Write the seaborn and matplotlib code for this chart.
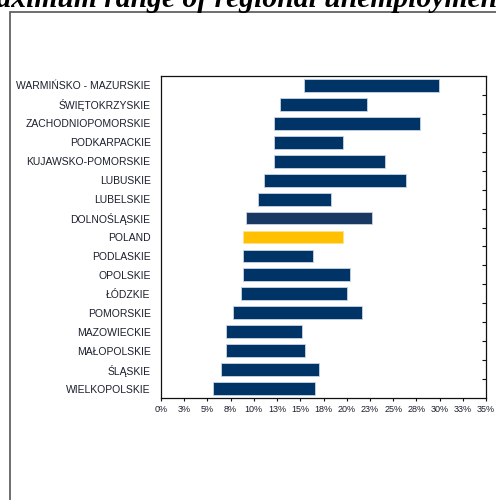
import matplotlib
matplotlib.use("Agg")
import matplotlib.pyplot as plt
import matplotlib.patches as mpatches
import seaborn as sns
import pandas as pd

# ---- data (top to bottom) ----
regions = [
    "WARMIŃSKO - MAZURSKIE", "ŚWIĘTOKRZYSKIE", "ZACHODNIOPOMORSKIE", "PODKARPACKIE",
    "KUJAWSKO-POMORSKIE", "LUBUSKIE", "LUBELSKIE", "DOLNOŚLĄSKIE", "POLAND",
    "PODLASKIE", "OPOLSKIE", "ŁÓDZKIE", "POMORSKIE", "MAZOWIECKIE",
    "MAŁOPOLSKIE", "ŚLĄSKIE", "WIELKOPOLSKIE",
]
min_rate = [15.4, 12.8, 12.2, 12.2, 12.2, 11.1, 10.4, 9.2, 8.8,
            8.8, 8.8, 8.6, 7.8, 7.0, 7.0, 6.5, 5.6]
max_rate = [29.9, 22.2, 27.9, 19.6, 24.1, 26.4, 18.3, 22.7, 19.6,
            16.4, 20.4, 20.0, 21.7, 15.2, 15.5, 17.0, 16.6]
x_ticks = [0, 2.5, 5, 7.5, 10, 12.5, 15, 17.5, 20, 22.5, 25, 27.5, 30, 32.5, 35]
x_tick_labels = ["0%", "3%", "5%", "8%", "10%", "13%", "15%", "18%", "20%",
                 "23%", "25%", "28%", "30%", "33%", "35%"]
title = "Maximum range of regional unemployment"

df = pd.DataFrame({"region": regions, "start": min_rate, "end": max_rate})
df["span"] = df["end"] - df["start"]

sns.set_theme(style="white")
plt.rcParams["font.family"] = ["Liberation Sans", "DejaVu Sans"]

fig = plt.figure(figsize=(4.96, 5.00), dpi=100, facecolor="white")
ax = fig.add_axes([161 / 496, 1 - 398 / 500, (486 - 161) / 496, (398 - 76) / 500])

navy = "#003366"
sns.barplot(data=df, x="span", y="region", order=regions, orient="h",
            left=df["start"].to_numpy(), color=navy, width=0.68,
            edgecolor="#c9d5e4", linewidth=0.6, saturation=1, ax=ax, errorbar=None)

for patch, reg in zip(ax.patches, regions):
    if reg == "POLAND":
        patch.set_facecolor("#FFC000")
        patch.set_edgecolor("#ffe08a")
    elif reg == "DOLNOŚLĄSKIE":
        patch.set_facecolor("#1a3962")

ax.set_xlim(0, 35)
ax.set_ylim(len(regions) - 0.5, -0.5)
ax.set_xticks(x_ticks)
ax.set_xticklabels(x_tick_labels)
ax.set_xlabel("")
ax.set_ylabel("")

for s in ax.spines.values():
    s.set_visible(True)
    s.set_color("#111111")
    s.set_linewidth(0.9)

ax.tick_params(axis="x", which="major", bottom=True, direction="out", length=2.5,
               width=0.8, color="#111111", labelsize=6.5, labelcolor="#1a1f2c", pad=2.5)
ax.tick_params(axis="y", which="major", left=False, right=False, length=0,
               labelsize=7.5, labelcolor="#1a1f2c", pad=7.5)
ax.set_yticks([i + 0.5 for i in range(len(regions) - 1)], minor=True)
ax.tick_params(axis="y", which="minor", left=False, right=True, direction="in",
               length=3, width=0.8, color="#111111")

# outer frame
frame = mpatches.Rectangle((9.5 / 496, -0.05), 1.2, 1 - 12 / 500 + 0.05,
                           transform=fig.transFigure, fill=False,
                           edgecolor="#555555", linewidth=1.2, clip_on=False)
fig.patches.append(frame)

# title (cropped at top-left like the reference)
fig.canvas.draw()
r = fig.canvas.get_renderer()
tsize = 21.3
tmp = fig.text(0, 0, "M", fontsize=tsize, family="Liberation Serif",
               weight="bold", style="italic")
mw = tmp.get_window_extent(renderer=r).width
tmp.remove()
fig.text((-3 - mw) / 496, 1 - 7 / 500, title, fontsize=tsize, family="Liberation Serif",
         weight="bold", style="italic", ha="left", va="baseline", color="black")

fig.savefig("out.png", dpi=100, facecolor="white")
